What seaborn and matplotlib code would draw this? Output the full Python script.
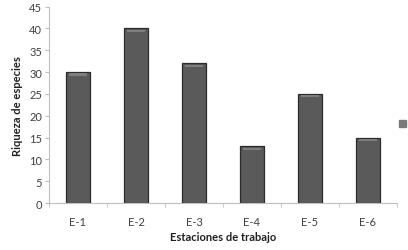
import pandas as pd
import matplotlib.pyplot as plt
import seaborn as sns
from matplotlib.patches import Patch

# datos
estaciones = ['E-1', 'E-2', 'E-3', 'E-4', 'E-5', 'E-6']
riqueza = [30, 40, 32, 13, 25, 15]
yticks = [0, 5, 10, 15, 20, 25, 30, 35, 40, 45]

df = pd.DataFrame({'estacion': estaciones, 'riqueza': riqueza})

sns.set_style('white')
plt.rcParams['font.family'] = ['Lato', 'DejaVu Sans']

fig = plt.figure(figsize=(4.08, 2.51), dpi=100)
ax = fig.add_axes([0.120, 0.187, 0.853, 0.783])

sns.barplot(data=df, x='estacion', y='riqueza', color='#5a5a5a',
            saturation=1, width=0.4, edgecolor='#2b2b2b', linewidth=0.9, ax=ax)

# pequeño brillo arriba de cada barra
for p in ax.patches:
    x0, w, h = p.get_x(), p.get_width(), p.get_height()
    ax.fill_between([x0 + 0.05, x0 + w - 0.05], h - 0.8, h - 0.3, color='#7e7e7e', lw=0, zorder=3)

ax.set_ylim(0, 45)
ax.set_xlim(-0.5, 5.5)
ax.set_yticks(yticks)
ax.set_xticks(range(len(estaciones)))
ax.set_xticklabels(estaciones)
ax.set_xticks([i - 0.5 for i in range(len(estaciones) + 1)], minor=True)

ax.tick_params(axis='y', which='major', left=True, length=3, color='#bfbfbf',
               labelsize=8, labelcolor='#404040', pad=2)
ax.tick_params(axis='x', which='major', bottom=False, labelsize=8, labelcolor='#404040', pad=6)
ax.tick_params(axis='x', which='minor', bottom=True, length=3, color='#bfbfbf')

for s in ['top', 'right']:
    ax.spines[s].set_visible(False)
ax.spines['left'].set_color('#bfbfbf')
ax.spines['bottom'].set_color('#bfbfbf')
ax.spines['left'].set_linewidth(0.8)
ax.spines['bottom'].set_linewidth(0.8)

ax.set_xlabel('Estaciones de trabajo', fontsize=8, fontweight='bold', color='#202020', labelpad=3)
ax.set_ylabel('Riqueza de especies', fontsize=8, fontweight='bold', color='#202020', labelpad=4)

# marcador de leyenda sin texto a la derecha
fig.legend(handles=[Patch(color='#7a7a7a')], labels=[''], loc='center',
           bbox_to_anchor=(0.987, 0.50), frameon=False, handlelength=0.5,
           handleheight=0.3, borderpad=0, handletextpad=0)

fig.savefig('out.png', dpi=100)
